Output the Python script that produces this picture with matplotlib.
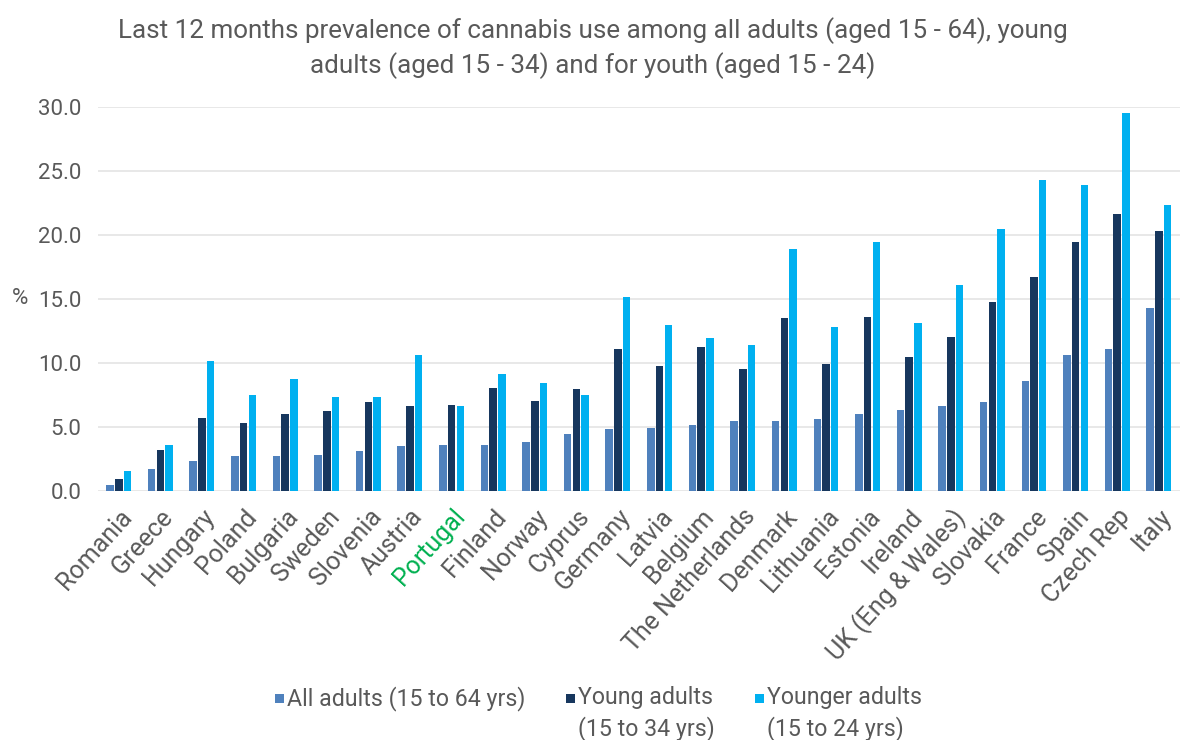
import numpy as np
import matplotlib
matplotlib.use("Agg")
import matplotlib.pyplot as plt
from matplotlib.patches import Patch, Rectangle
from matplotlib.legend_handler import HandlerPatch

plt.rcParams['font.family'] = ['Roboto', 'DejaVu Sans']

countries = ["Romania", "Greece", "Hungary", "Poland", "Bulgaria", "Sweden", "Slovenia",
             "Austria", "Portugal", "Finland", "Norway", "Cyprus", "Germany", "Latvia",
             "Belgium", "The Netherlands", "Denmark", "Lithuania", "Estonia", "Ireland",
             "UK (Eng & Wales)", "Slovakia", "France", "Spain", "Czech Rep", "Italy"]
all_adults = [0.4, 1.7, 2.3, 2.7, 2.7, 2.8, 3.1, 3.5, 3.6, 3.6, 3.8, 4.4, 4.8, 4.9,
              5.1, 5.4, 5.4, 5.6, 6.0, 6.3, 6.6, 6.9, 8.6, 10.6, 11.1, 14.3]
young_adults = [0.9, 3.2, 5.7, 5.3, 6.0, 6.2, 6.9, 6.6, 6.7, 8.0, 7.0, 7.9, 11.1, 9.7,
                11.2, 9.5, 13.5, 9.9, 13.6, 10.4, 12.0, 14.7, 16.7, 19.4, 21.6, 20.3]
younger_adults = [1.5, 3.6, 10.1, 7.5, 8.7, 7.3, 7.3, 10.6, 6.6, 9.1, 8.4, 7.5, 15.1, 12.9,
                  11.9, 11.4, 18.9, 12.8, 19.4, 13.1, 16.1, 20.4, 24.3, 23.9, 29.5, 22.3]
series_labels = ["All adults (15 to 64 yrs)", "Young adults\n(15 to 34 yrs)",
                 "Younger adults\n(15 to 24 yrs)"]
yticks = [0, 5, 10, 15, 20, 25, 30]

colors = ["#4F81BD", "#17375E", "#00B0F0"]
text_gray = "#595959"

fig = plt.figure(figsize=(11.86, 7.4), dpi=100)
ax = fig.add_axes([0.0826, 0.337, 0.912, 0.519])

x = np.arange(len(countries))
w = 0.18
pitch = 0.21
for i, (vals, c, lab) in enumerate(zip([all_adults, young_adults, younger_adults], colors, series_labels)):
    ax.bar(x + (i - 1) * pitch, vals, width=w, color=c, label=lab, zorder=3)

ax.set_xlim(-0.5, len(countries) - 0.5)
ax.set_ylim(0, 30)
ax.set_yticks(yticks)
ax.set_yticklabels([f"{v:.1f}" for v in yticks], fontsize=16, color=text_gray)
ax.yaxis.grid(True, color="#E6E6E6", linewidth=1.3, zorder=0)
ax.set_axisbelow(True)
for s in ax.spines.values():
    s.set_visible(False)
ax.tick_params(axis='both', length=0)
ax.tick_params(axis='y', pad=12)

ax.set_xticks(x)
ax.set_xticklabels(countries, rotation=48, ha='right', rotation_mode='anchor',
                   fontsize=18, color=text_gray)
for t in ax.get_xticklabels():
    if t.get_text() == "Portugal":
        t.set_color("#00B050")
ax.tick_params(axis='x', pad=10)

ax.set_ylabel("%", rotation=0, fontsize=16, color=text_gray, va='center', ha='left')
ax.yaxis.set_label_coords(-0.0795, 0.5)

fig.text(0.5, 0.977, "Last 12 months prevalence of cannabis use among all adults (aged 15 - 64), young\n"
         "adults (aged 15 - 34) and for youth (aged 15 - 24)",
         ha='center', va='top', fontsize=18.7, color=text_gray, linespacing=1.4)


class TopHandler(HandlerPatch):
    def create_artists(self, legend, orig_handle, xdescent, ydescent, width, height, fontsize, trans):
        lab = orig_handle.get_label()
        nlines = lab.count("\n") + 1
        shift = 0.5 * fontsize * 1.4 * (nlines - 1)
        s = 0.38 * fontsize
        p = Rectangle((xdescent + width - s, -ydescent + (height - s) / 2 + shift), s, s,
                      facecolor=orig_handle.get_facecolor(), edgecolor='none', transform=trans)
        return [p]


# first entry is one line; a trailing empty line keeps it aligned with the first lines of the others
legend_labels = [series_labels[0] + "\n", series_labels[1], series_labels[2]]
handles = [Patch(facecolor=c, label=l) for c, l in zip(colors, legend_labels)]
leg = fig.legend(handles=handles, labels=legend_labels, loc='lower center',
                 bbox_to_anchor=(0.503, -0.03), ncol=3, frameon=False, fontsize=16.7,
                 handler_map={Patch: TopHandler()}, handlelength=0.55, handletextpad=0.12,
                 columnspacing=1.6, labelcolor=text_gray)
for t in leg.get_texts():
    t.set_linespacing(1.4)

fig.savefig("out.png", dpi=100)
